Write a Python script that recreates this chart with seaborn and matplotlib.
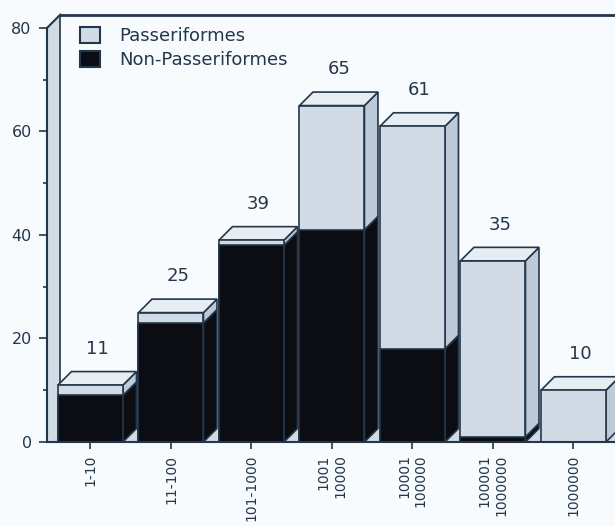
import matplotlib
matplotlib.use("Agg")
import matplotlib.pyplot as plt
from matplotlib.patches import Polygon, Patch
import pandas as pd
import seaborn as sns

# Species counts per population-size class
size_classes = ["1-10", "11-100", "101-1000", "1001\n10000", "10001\n100000",
                "100001\n1000000", "1000000"]
passeriformes = [2, 2, 1, 24, 43, 34, 10]
non_passeriformes = [9, 23, 38, 41, 18, 1, 0]
totals = [p + n for p, n in zip(passeriformes, non_passeriformes)]
y_ticks = [0, 20, 40, 60, 80]
y_minor_ticks = [10, 30, 50, 70]

sns.set_theme(style="white")
plt.rcParams["font.family"] = ["DejaVu Sans"]

BG = "#f8fbfd"
INK = "#24364a"
LIGHT = "#d1dbe5"
TOP = "#e6edf3"
SIDE = "#bdcbd9"
DARK = "#0b0d12"

W, H = 615, 526
fig = plt.figure(figsize=(W / 100, H / 100), dpi=100, facecolor=BG)
ax = fig.add_axes([47 / W, (H - 442) / H, (W - 47) / W, (442 - 15) / H])
ax.set_facecolor(BG)

df = pd.DataFrame({"size": size_classes, "total": totals, "non": non_passeriformes})
bar_width = 65 / 80.5
sns.barplot(data=df, x="size", y="total", color=LIGHT, saturation=1, width=bar_width,
            edgecolor=INK, linewidth=1.2, ax=ax, zorder=4)
sns.barplot(data=df, x="size", y="non", color=DARK, saturation=1, width=bar_width,
            edgecolor=INK, linewidth=1.2, ax=ax, zorder=4)

x_left, x_right = -0.54, 6.516
y_top = 82.5
ax.set_xlim(x_left, x_right)
ax.set_ylim(0, y_top)

# depth of the pseudo-3D extrusion, in data units
dx = 13.5 / 80.5
dy = 13.5 / 5.176

# side wall and floor
ax.add_patch(Polygon([(x_left, 0), (x_left, 80), (x_left + dx, 80 + dy), (x_left + dx, dy)],
                     closed=True, facecolor=LIGHT, edgecolor="none", zorder=1, clip_on=False))
ax.add_patch(Polygon([(x_left, 0), (x_right, 0), (x_right, dy), (x_left + dx, dy)],
                     closed=True, facecolor=LIGHT, edgecolor="none", zorder=1))
ax.plot([x_left, x_left + dx], [80, 80 + dy], color=INK, lw=1.5, zorder=2, clip_on=False)
ax.plot([x_left + dx, x_left + dx], [dy, y_top], color=INK, lw=1.2, zorder=2, clip_on=False)
ax.plot([x_left + dx, x_right], [y_top, y_top], color=INK, lw=2.0, zorder=2, clip_on=False)

# extrude each stacked bar: right side faces and top face
for tot_bar, non_bar in zip(ax.containers[0], ax.containers[1]):
    x0 = tot_bar.get_x()
    x1 = x0 + tot_bar.get_width()
    h_tot = tot_bar.get_height()
    h_non = non_bar.get_height()
    if h_non > 0:
        ax.add_patch(Polygon([(x1, 0), (x1 + dx, dy), (x1 + dx, h_non + dy), (x1, h_non)],
                             closed=True, facecolor=DARK, edgecolor=INK, lw=1.2,
                             joinstyle="miter", zorder=3.5))
    if h_tot > h_non:
        ax.add_patch(Polygon([(x1, h_non), (x1 + dx, h_non + dy), (x1 + dx, h_tot + dy), (x1, h_tot)],
                             closed=True, facecolor=SIDE, edgecolor=INK, lw=1.2,
                             joinstyle="miter", zorder=3.5))
    top_color = TOP if h_tot > h_non else DARK
    ax.add_patch(Polygon([(x0, h_tot), (x0 + dx, h_tot + dy), (x1 + dx, h_tot + dy), (x1, h_tot)],
                         closed=True, facecolor=top_color, edgecolor=INK, lw=1.2,
                         joinstyle="miter", zorder=3.5, clip_on=False))

# totals above each bar
for bar, total in zip(ax.containers[0], totals):
    cx = bar.get_x() + bar.get_width() / 2 + dx / 2
    ax.text(cx, bar.get_height() + dy + 4.4, f"{total}", ha="center", va="center",
            fontsize=13, color=INK, zorder=6)

# axes frame
for side in ("top", "right"):
    ax.spines[side].set_visible(False)
ax.spines["left"].set_bounds(0, 80)
for side in ("left", "bottom"):
    ax.spines[side].set_color(INK)
    ax.spines[side].set_linewidth(1.5)
    ax.spines[side].set_zorder(5)

ax.set_yticks(y_ticks)
ax.set_yticks(y_minor_ticks, minor=True)
ax.tick_params(axis="y", which="major", left=True, direction="out", length=6, width=1.2,
               color=INK, labelsize=11.5, labelcolor=INK, pad=5)
ax.tick_params(axis="y", which="minor", left=True, direction="out", length=3, width=1.2, color=INK)
ax.set_xticks(range(len(size_classes)))
ax.set_xticklabels(size_classes, rotation=90, fontsize=10, color=INK,
                   va="top", ha="center", multialignment="right")
ax.tick_params(axis="x", bottom=True, direction="out", length=5, width=1.2, color=INK, pad=4)
ax.set_xlabel("")
ax.set_ylabel("")

handles = [Patch(facecolor=LIGHT, edgecolor=INK, lw=1.5, label="Passeriformes"),
           Patch(facecolor=DARK, edgecolor=INK, lw=1.5, label="Non-Passeriformes")]
leg = ax.legend(handles=handles, loc="upper left", bbox_to_anchor=(80 / W, 1 - 27 / H),
                bbox_transform=fig.transFigure, frameon=False, fontsize=13,
                handlelength=1.1, handleheight=1.0, handletextpad=1.1,
                labelspacing=0.3, borderpad=0, borderaxespad=0)
for t in leg.get_texts():
    t.set_color(INK)
leg.set_zorder(7)

fig.savefig("out.png", dpi=100, facecolor=BG)
